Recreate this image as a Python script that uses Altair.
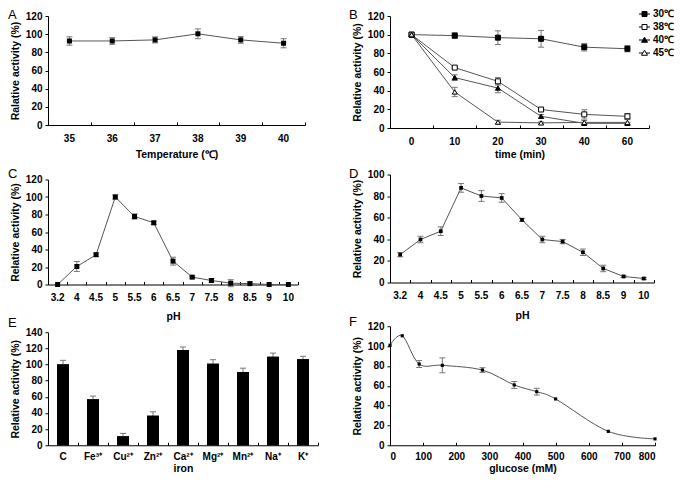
import altair as alt
import pandas as pd

FONT = "Liberation Sans"
LINE_C = "#555555"
ERR_C = "#777777"
MARK_C = "#000000"

LETTERS = ["A", "B", "C", "D", "E", "F"]

# Panel A: temperature optimum
TEMP = ["35", "36", "37", "38", "39", "40"]
TEMP_ACT = [92.5, 92.5, 93.7, 100.4, 93.7, 90.0]
TEMP_ERR = [4.6, 3.7, 3.3, 5.4, 3.7, 5.0]

# Panel B: thermal stability
TIME = ["0", "10", "20", "30", "40", "60"]
SERIES = ["30℃", "38℃", "40℃", "45℃"]
T30 = [100, 99.0, 96.8, 95.6, 86.6, 84.9]
T30_ERR = [0, 3.0, 7.3, 9.0, 4.0, 3.3]
T38 = [100, 64.7, 50.0, 19.8, 14.6, 12.5]
T38_ERR = [0, 1.0, 4.0, 2.0, 5.0, 3.0]
T40 = [100, 54.0, 42.8, 12.5, 5.0, 5.0]
T40_ERR = [0, 3.0, 5.0, 2.0, 1.0, 1.0]
T45 = [100, 38.6, 6.3, 5.5, 6.0, 6.0]
T45_ERR = [0, 5.0, 2.0, 1.0, 2.0, 3.0]
SHAPES = ["square", "square", "triangle-up", "triangle-up"]
FILLS = ["black", "white", "black", "white"]
STROKES = ["black", "black", "black", "black"]
LEG_PATHS = [
    "M-1.1,0H-0.5M0.5,0H1.1M-0.5,-0.5H0.5V0.5H-0.5Z",
    "M-1.1,0H-0.5M0.5,0H1.1M-0.5,-0.5H0.5V0.5H-0.5Z",
    "M-1.1,0H-0.33M0.33,0H1.1M0,-0.55L0.6,0.45H-0.6Z",
    "M-1.1,0H-0.33M0.33,0H1.1M0,-0.55L0.6,0.45H-0.6Z",
]

# Panels C and D: pH
PH = ["3.2", "4", "4.5", "5", "5.5", "6", "6.5", "7", "7.5", "8", "8.5", "9", "10"]
PH_ACT_C = [0, 20.6, 34.0, 100.0, 77.7, 70.5, 26.7, 8.4, 4.6, 1.5, 1.0, 0, 0]
PH_ERR_C = [0, 5.7, 2.0, 2.5, 3.0, 2.0, 4.5, 1.0, 2.0, 4.0, 2.0, 0, 0]
PH_ACT_D = [25.8, 39.8, 47.5, 87.6, 80.1, 78.3, 58.0, 39.8, 37.9, 28.0, 13.0, 5.6, 3.7]
PH_ERR_D = [2.0, 3.0, 4.0, 4.0, 5.0, 4.0, 1.5, 3.0, 2.0, 3.0, 3.0, 1.0, 1.0]

# Panel E: metal ions
IONS = ["C", "Fe³⁺", "Cu²⁺", "Zn²⁺", "Ca²⁺", "Mg²⁺", "Mn²⁺", "Na⁺", "K⁺"]
ION_ACT = [100.2, 56.9, 11.1, 36.6, 118.1, 101.0, 90.7, 109.8, 106.6]
ION_ERR = [5.0, 4.0, 3.6, 4.8, 3.6, 5.0, 4.8, 4.4, 3.6]

# Panel F: glucose
GLU = [0, 37, 88, 158, 279, 375, 443, 500, 659, 800]
GLU_ACT = [100.8, 110.4, 81.9, 80.6, 75.8, 60.8, 54.0, 46.7, 14.0, 6.4]
GLU_ERR = [0, 0, 3.5, 7.5, 2.4, 3.5, 3.4, 0, 0, 0]


def frame(cats, vals, errs, series=None):
    df = pd.DataFrame({"x": cats, "y": vals, "e": errs})
    df["lo"] = df["y"] - df["e"]
    df["hi"] = df["y"] + df["e"]
    if series is not None:
        df["s"] = series
    return df


def y_axis(title, step, maxv):
    return alt.Axis(title=title, values=list(range(0, maxv + 1, step)),
                    tickSize=3, labelPadding=3, titlePadding=5)


def x_axis(title, lc, tc, values=None):
    kw = dict(title=title, ticks=False, tickSize=0, labelPadding=lc,
              labelBaseline="middle", titleBaseline="middle", titleY=tc,
              labelAngle=0)
    if values is not None:
        kw["values"] = values
    return alt.Axis(**kw)


def tick_axis(h, band=True, values=None):
    kw = dict(orient="top", offset=-h, labels=False, domain=False, ticks=True,
              tickSize=3, title=None, grid=False)
    if band:
        kw["tickBand"] = "extent"
    if values is not None:
        kw["values"] = values
    return alt.Axis(**kw)


def letter_layer(letter, x, y):
    return alt.Chart(pd.DataFrame({"t": [letter]})).mark_text(
        align="left", baseline="middle", font=FONT, fontSize=13, color="black"
    ).encode(text="t:N", x=alt.value(x), y=alt.value(y))


def err_layers(df, xfield, xs, ys, yax):
    d = alt.Chart(df).transform_filter("datum.e > 0")
    stem = d.mark_rule(color=ERR_C, strokeWidth=1).encode(
        x=alt.X(xfield, scale=xs, axis=None),
        y=alt.Y("lo:Q", scale=ys, axis=yax), y2="hi:Q")
    cap_lo = d.mark_tick(orient="horizontal", size=6, thickness=1, color=ERR_C, opacity=1).encode(
        x=alt.X(xfield, scale=xs, axis=None),
        y=alt.Y("lo:Q", scale=ys, axis=yax))
    cap_hi = d.mark_tick(orient="horizontal", size=6, thickness=1, color=ERR_C, opacity=1).encode(
        x=alt.X(xfield, scale=xs, axis=None),
        y=alt.Y("hi:Q", scale=ys, axis=yax))
    return [stem, cap_lo, cap_hi]


def line_panel(letter, cats, vals, errs, w, h, ymax, ystep, ytitle, xtitle,
               msize, lc, tc, lx, ly):
    df = frame(cats, vals, errs)
    xs = alt.Scale(type="band", domain=cats, paddingInner=0, paddingOuter=0)
    ys = alt.Scale(domain=[0, ymax], nice=False)
    yax = y_axis(ytitle, ystep, ymax)
    line = alt.Chart(df).mark_line(color=LINE_C, strokeWidth=1).encode(
        x=alt.X("x:N", scale=xs, axis=x_axis(xtitle, lc, tc)),
        y=alt.Y("y:Q", scale=ys, axis=yax))
    pts = alt.Chart(df).mark_point(shape="square", filled=True, size=msize,
                                   color=MARK_C, opacity=1).encode(
        x=alt.X("x:N", scale=xs, axis=tick_axis(h)),
        y=alt.Y("y:Q", scale=ys, axis=yax))
    layers = [line] + err_layers(df, "x:N", xs, ys, yax) + [pts, letter_layer(letter, lx, ly)]
    return alt.layer(*layers).resolve_axis(x="independent").properties(width=w, height=h)


# ---------- A ----------
pA = line_panel("A", TEMP, TEMP_ACT, TEMP_ERR, 257, 109, 120, 20,
                "Ralative activity (%)", "Temperature (℃)", 25, 13, 29.5, -40, -1)

# ---------- B ----------
wB, hB = 259, 112
dfB = pd.concat([frame(TIME, v, e, s) for s, v, e in
                 zip(SERIES, [T30, T38, T40, T45], [T30_ERR, T38_ERR, T40_ERR, T45_ERR])])
xsB = alt.Scale(type="band", domain=TIME, paddingInner=0, paddingOuter=0)
ysB = alt.Scale(domain=[0, 120], nice=False)
yaxB = y_axis("Relative activity (%)", 20, 120)
lineB = alt.Chart(dfB).mark_line(color=LINE_C, strokeWidth=1).encode(
    x=alt.X("x:N", scale=xsB, axis=x_axis("time (min)", 13.5, 26.5)),
    y=alt.Y("y:Q", scale=ysB, axis=yaxB),
    detail="s:N")
ptsB = alt.Chart(dfB).mark_point(filled=False, size=25, color="black",
                                 strokeWidth=1, opacity=1).encode(
    x=alt.X("x:N", scale=xsB, axis=tick_axis(hB)),
    y=alt.Y("y:Q", scale=ysB, axis=yaxB),
    shape=alt.Shape("s:N", scale=alt.Scale(domain=SERIES, range=SHAPES), legend=None),
    fill=alt.Fill("s:N", scale=alt.Scale(domain=SERIES, range=FILLS), legend=None))
legB = alt.Legend(orient="none", legendX=249, legendY=-7.5, title=None,
                  labelFont=FONT, labelFontSize=10, labelFontWeight="bold",
                  labelColor="black", symbolSize=100, symbolStrokeWidth=1,
                  symbolStrokeColor="black", labelOffset=3, rowPadding=2, padding=0)
legLayer = alt.Chart(pd.DataFrame({"s": SERIES})).transform_filter("false").mark_point(
    filled=False, strokeWidth=1, opacity=1).encode(
    shape=alt.Shape("s:N", scale=alt.Scale(domain=SERIES, range=LEG_PATHS), legend=legB),
    fill=alt.Fill("s:N", scale=alt.Scale(domain=SERIES, range=FILLS), legend=legB),
    stroke=alt.Stroke("s:N", scale=alt.Scale(domain=SERIES, range=STROKES), legend=legB))
layersB = [lineB] + err_layers(dfB, "x:N", xsB, ysB, yaxB) + [ptsB, legLayer, letter_layer("B", -41, -1)]
pB = alt.layer(*layersB).resolve_axis(x="independent").resolve_scale(
    shape="independent", fill="independent", stroke="independent").properties(width=wB, height=hB)

# ---------- C, D ----------
pC = line_panel("C", PH, PH_ACT_C, PH_ERR_C, 250, 105, 120, 20,
                "Relative activity (%)", "pH", 25, 13, 32, -40, -5.5)
pD = line_panel("D", PH, PH_ACT_D, PH_ERR_D, 264, 108, 100, 20,
                "Relative activity (%)", "pH", 14, 13, 33, -41, -0.5)

# ---------- E ----------
wE, hE = 270, 113
dfE = frame(IONS, ION_ACT, ION_ERR)
xsE = alt.Scale(type="band", domain=IONS, paddingInner=0, paddingOuter=0)
ysE = alt.Scale(domain=[0, 140], nice=False)
yaxE = y_axis("Relative activity (%)", 20, 140)
barE = alt.Chart(dfE).mark_bar(color="black", width=alt.RelativeBandSize(0.4)).encode(
    x=alt.X("x:N", scale=xsE, axis=x_axis("iron", 11.5, 23)),
    y=alt.Y("y:Q", scale=ysE, axis=yaxE))
barTicks = alt.Chart(dfE).mark_bar(color="black", width=alt.RelativeBandSize(0.4)).encode(
    x=alt.X("x:N", scale=xsE, axis=tick_axis(hE)),
    y=alt.Y("y:Q", scale=ysE, axis=yaxE))
layersE = err_layers(dfE, "x:N", xsE, ysE, yaxE) + [barE, barTicks, letter_layer("E", -40, -9)]
pE = alt.layer(*layersE).resolve_axis(x="independent").properties(width=wE, height=hE)

# ---------- F ----------
wF, hF = 265, 119
dfF = frame(GLU, GLU_ACT, GLU_ERR)
xsF = alt.Scale(domain=[0, 800], nice=False)
ysF = alt.Scale(domain=[0, 120], nice=False)
yaxF = y_axis("Relative activity (%)", 20, 120)
xvals = list(range(0, 801, 100))
lineF = alt.Chart(dfF).mark_line(color=LINE_C, strokeWidth=1, interpolate="cardinal").encode(
    x=alt.X("x:Q", scale=xsF, axis=x_axis("glucose (mM)", 11.5, 23, xvals)),
    y=alt.Y("y:Q", scale=ysF, axis=yaxF))
ptsF = alt.Chart(dfF).mark_point(shape="square", filled=True, size=10,
                                 color=MARK_C, opacity=1).encode(
    x=alt.X("x:Q", scale=xsF, axis=tick_axis(hF, band=False, values=xvals)),
    y=alt.Y("y:Q", scale=ysF, axis=yaxF))
layersF = [lineF] + err_layers(dfF, "x:Q", xsF, ysF, yaxF) + [ptsF, letter_layer("F", -41, -4)]
pF = alt.layer(*layersF).resolve_axis(x="independent").properties(width=wF, height=hF)

left = alt.vconcat(pA, alt.vconcat(pC, pE, spacing=-5.25), spacing=7.5)
right = alt.vconcat(pB, alt.vconcat(pD, pF, spacing=-5.25), spacing=7.5)

chart = alt.hconcat(left, right, spacing=30).properties(padding=0).configure_view(
    stroke=None
).configure_axis(
    labelFont=FONT, labelFontSize=10, labelFontWeight="bold", labelColor="black",
    titleFont=FONT, titleFontSize=10.5, titleFontWeight="bold", titleColor="black",
    domainColor="black", tickColor="black", grid=False, domainWidth=1, tickWidth=1
)

chart.save("out.html", embed_options={"renderer": "svg", "actions": False})
